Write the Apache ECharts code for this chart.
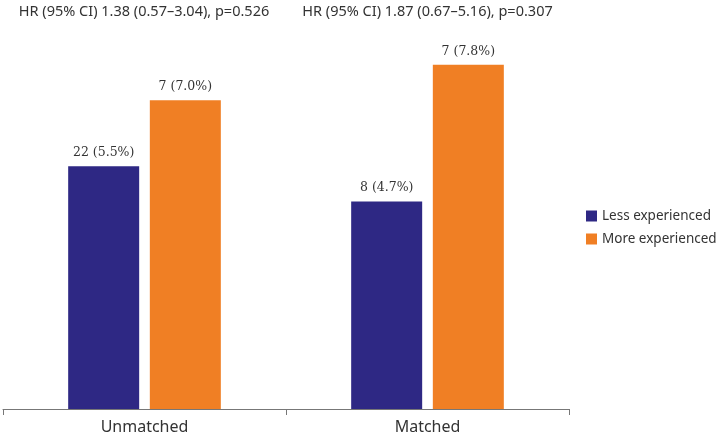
<!DOCTYPE html>
<html><head><meta charset="utf-8">
<script src="https://cdn.jsdelivr.net/npm/echarts@6/dist/echarts.min.js"></script>
<style>html,body{margin:0;padding:0;background:#fff}#c{width:719px;height:438px}</style>
</head><body><div id="c"></div>
<script>
const categories = ['Unmatched', 'Matched'];
const seriesNames = ['Less experienced', 'More experienced'];
const lessPct = [5.5, 4.7];
const morePct = [7.0, 7.8];
const lessCount = [22, 8];
const moreCount = [7, 7];
const hrTexts = ['HR (95% CI) 1.38 (0.57–3.04), p=0.526', 'HR (95% CI) 1.87 (0.67–5.16), p=0.307'];
const colors = ['#2e2884', '#f07f24'];

const chart = echarts.init(document.getElementById('c'));
function mkLabel(counts){
  return {show:true, position:'top', distance:7, color:'#333', fontSize:12.5, fontFamily:'DejaVu Serif',
    formatter: p => counts[p.dataIndex] + ' (' + p.value.toFixed(1) + '%)'};
}
chart.setOption({
  animation:false,
  title: hrTexts.map((t,i)=>({text:t, left: (i===0?139:422.5), top:-1, textAlign:'center',
    textStyle:{fontSize:14.5, fontWeight:'normal', color:'#333', fontFamily:'Noto Sans'}})),
  legend:{orient:'vertical', left:581, top:204, itemWidth:11, itemHeight:11, itemGap:9, itemStyle:{borderWidth:0},
    textStyle:{fontSize:13.5, color:'#333', fontFamily:'Noto Sans'}, data:seriesNames, icon:'rect'},
  grid:{left:3, right:150, top:56, bottom:29, containLabel:false},
  xAxis:{type:'category', data:categories, boundaryGap:true,
    axisLine:{lineStyle:{color:'#777', width:1}},
    axisTick:{show:true, length:6, lineStyle:{color:'#777'}},
    axisLabel:{fontSize:16, color:'#333', margin:10, fontFamily:'Noto Sans'}},
  yAxis:{type:'value', min:0, max:8, show:false, splitLine:{show:false}},
  series:[
    {name:seriesNames[0], type:'bar', data:lessPct, itemStyle:{color:colors[0]}, barWidth:71, barGap:'15%', label:mkLabel(lessCount)},
    {name:seriesNames[1], type:'bar', data:morePct, itemStyle:{color:colors[1]}, barWidth:71, barGap:'15%', label:mkLabel(moreCount)}
  ]
});
</script></body></html>
